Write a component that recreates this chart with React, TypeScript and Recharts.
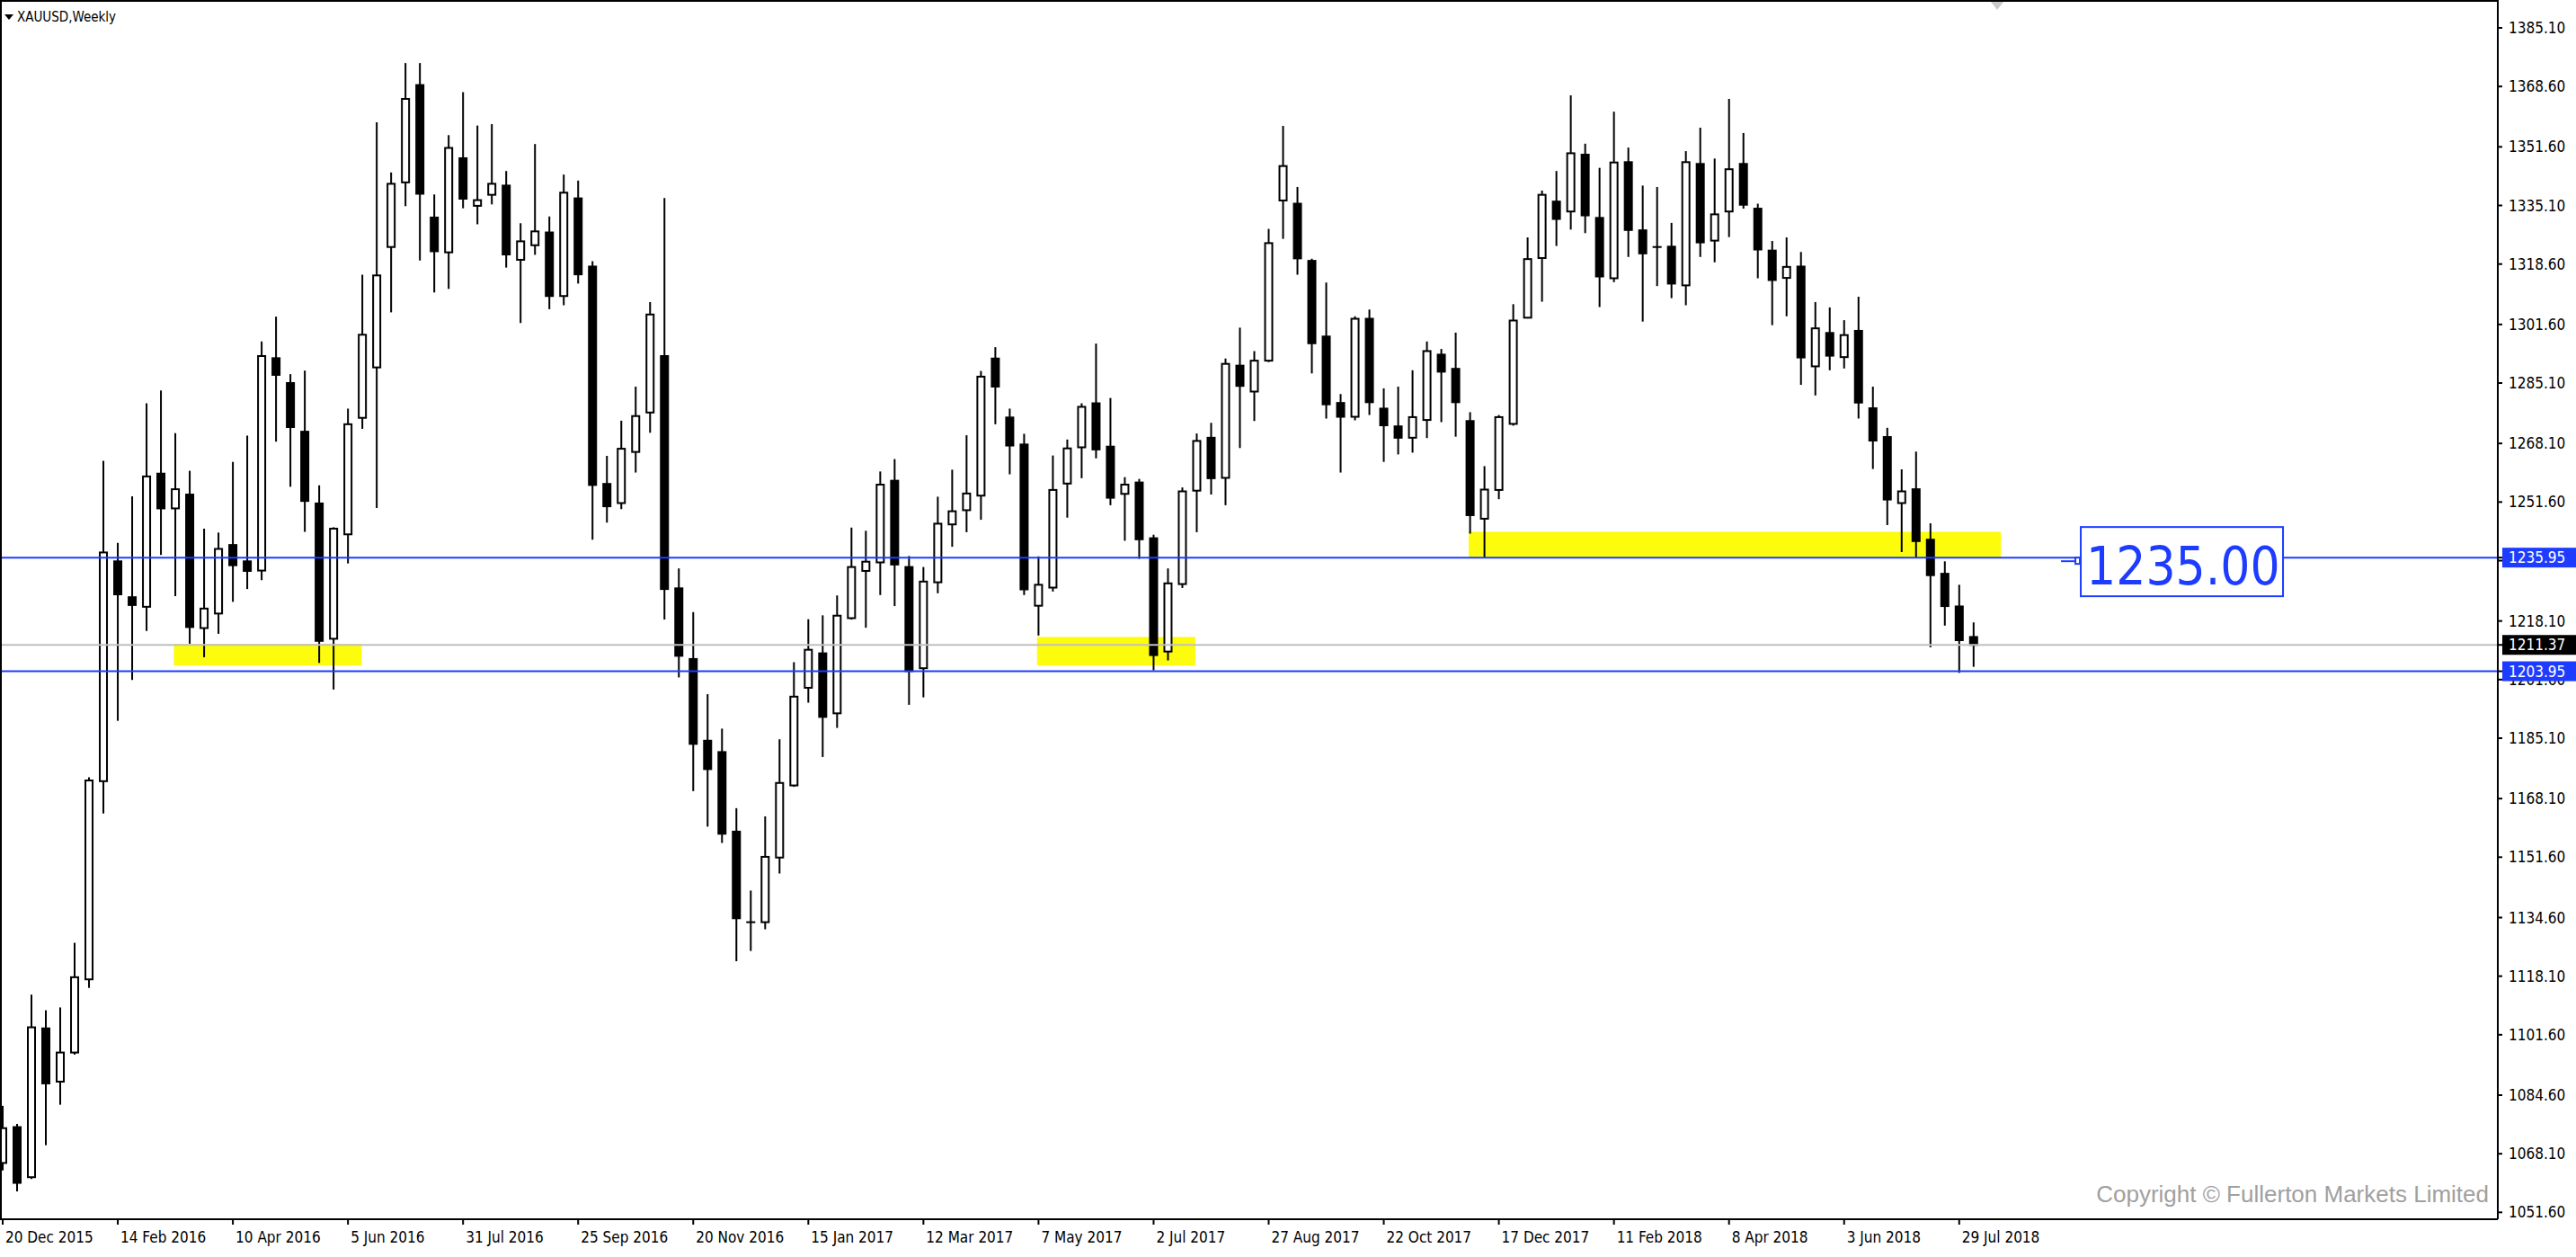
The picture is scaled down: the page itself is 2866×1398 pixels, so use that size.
import { ComposedChart, Bar, XAxis, YAxis, ReferenceLine, ReferenceArea, ReferenceDot } from "recharts"

const CHART_W = 2866
const CHART_H = 1398
const BLUE = "#1e3cff"
const FONT = "'DejaVu Sans Condensed', 'DejaVu Sans', sans-serif"

// weekly XAUUSD bars, week 0 = 20 Dec 2015
const OPEN = [
  1065.5, 1075.6, 1061.5, 1103.4, 1088.4, 1096.6, 1117.2, 1173.0, 1234.9, 1224.8,
  1222.1, 1259.6, 1249.8, 1253.7, 1216.1, 1220.2, 1239.5, 1234.9, 1232.3, 1292.1,
  1285.1, 1271.4, 1251.2, 1213.1, 1242.5, 1275.3, 1289.5, 1323.4, 1341.6, 1369.0,
  1331.7, 1321.9, 1348.4, 1335.0, 1338.1, 1340.7, 1319.8, 1323.9, 1327.5, 1309.6,
  1337.1, 1317.9, 1256.7, 1251.3, 1265.7, 1276.8, 1292.7, 1227.3, 1207.4, 1184.4,
  1181.2, 1158.8, 1133.3, 1133.3, 1151.5, 1171.8, 1199.3, 1209.0, 1192.1, 1218.9,
  1232.2, 1234.6, 1257.6, 1233.3, 1204.8, 1229.0, 1245.3, 1249.3, 1253.4, 1292.0,
  1275.4, 1267.8, 1222.4, 1227.5, 1256.8, 1267.0, 1279.4, 1267.2, 1253.9, 1257.1,
  1241.4, 1209.5, 1228.5, 1254.8, 1269.7, 1258.4, 1290.0, 1282.7, 1291.4, 1336.5,
  1335.6, 1319.5, 1298.2, 1279.5, 1275.6, 1303.2, 1277.9, 1272.9, 1269.7, 1274.7,
  1293.1, 1289.1, 1274.4, 1246.9, 1255.0, 1273.6, 1303.5, 1320.3, 1336.2, 1333.4,
  1349.4, 1331.6, 1314.6, 1347.3, 1328.1, 1323.4, 1323.5, 1312.6, 1346.8, 1325.2,
  1333.4, 1346.8, 1334.2, 1322.4, 1314.7, 1317.9, 1289.8, 1299.2, 1292.4, 1299.8,
  1278.0, 1269.9, 1251.3, 1255.2, 1241.0, 1231.4, 1222.2, 1213.6,
]
const HIGH = [
  1081.6, 1076.5, 1112.9, 1108.5, 1109.3, 1127.5, 1174.1, 1263.2, 1240.1, 1253.2,
  1279.4, 1283.0, 1271.0, 1260.4, 1244.1, 1243.0, 1262.9, 1270.3, 1296.8, 1303.8,
  1287.6, 1288.6, 1256.3, 1244.5, 1277.9, 1315.6, 1358.5, 1344.4, 1375.2, 1375.2,
  1338.2, 1354.9, 1367.0, 1357.6, 1358.0, 1344.8, 1330.1, 1352.4, 1332.0, 1343.8,
  1342.1, 1319.4, 1264.6, 1274.5, 1284.1, 1307.9, 1337.2, 1232.9, 1220.6, 1197.5,
  1187.8, 1165.4, 1142.2, 1163.1, 1184.8, 1206.5, 1218.6, 1219.7, 1225.3, 1244.4,
  1243.5, 1260.2, 1263.7, 1236.4, 1233.3, 1253.1, 1260.7, 1270.4, 1288.5, 1295.2,
  1277.9, 1270.8, 1236.3, 1264.7, 1269.2, 1279.4, 1296.2, 1280.9, 1258.6, 1258.1,
  1242.4, 1232.9, 1255.7, 1270.9, 1273.9, 1292.0, 1300.7, 1294.1, 1328.5, 1357.5,
  1340.3, 1320.1, 1313.4, 1282.0, 1303.9, 1305.8, 1283.6, 1284.1, 1288.7, 1296.8,
  1294.7, 1299.3, 1276.9, 1261.7, 1276.1, 1307.3, 1326.1, 1339.3, 1344.8, 1366.1,
  1352.5, 1345.7, 1361.5, 1351.4, 1340.7, 1340.3, 1330.2, 1350.4, 1357.0, 1348.3,
  1365.1, 1355.5, 1335.6, 1325.1, 1326.1, 1322.0, 1307.9, 1306.4, 1302.8, 1309.4,
  1284.1, 1272.5, 1260.8, 1265.8, 1245.6, 1234.9, 1228.3, 1217.7,
]
const LOW = [
  1063.4, 1057.5, 1061.0, 1070.5, 1081.9, 1096.0, 1114.8, 1163.9, 1190.0, 1201.5,
  1215.3, 1236.7, 1225.1, 1211.7, 1207.9, 1214.5, 1223.5, 1227.1, 1229.6, 1268.6,
  1255.9, 1243.2, 1206.3, 1198.8, 1234.3, 1272.2, 1249.9, 1305.0, 1334.9, 1319.6,
  1310.6, 1311.6, 1334.3, 1329.8, 1335.4, 1317.6, 1302.0, 1321.2, 1305.9, 1307.0,
  1313.1, 1241.0, 1245.8, 1249.6, 1259.9, 1271.1, 1218.5, 1202.2, 1170.2, 1160.2,
  1155.6, 1122.3, 1125.2, 1131.3, 1147.0, 1171.4, 1195.1, 1179.8, 1188.0, 1218.5,
  1216.2, 1225.4, 1222.3, 1194.5, 1196.6, 1225.9, 1239.0, 1243.1, 1246.6, 1273.5,
  1259.4, 1225.4, 1214.0, 1226.4, 1247.2, 1258.3, 1263.9, 1250.7, 1240.7, 1235.6,
  1204.2, 1207.0, 1227.4, 1243.1, 1253.7, 1250.7, 1266.8, 1274.4, 1291.0, 1325.7,
  1315.6, 1287.8, 1275.1, 1259.9, 1274.6, 1276.1, 1262.9, 1265.0, 1265.5, 1269.6,
  1274.1, 1270.0, 1242.7, 1235.9, 1252.4, 1273.1, 1303.3, 1308.0, 1323.7, 1328.3,
  1327.3, 1306.5, 1313.5, 1320.6, 1302.4, 1312.4, 1309.0, 1307.0, 1320.6, 1319.1,
  1326.2, 1334.2, 1314.6, 1301.4, 1303.9, 1284.6, 1281.6, 1288.7, 1289.2, 1275.1,
  1260.9, 1245.1, 1237.5, 1235.9, 1210.7, 1216.8, 1203.5, 1205.2,
]
const CLOSE = [
  1075.3, 1059.9, 1103.7, 1087.9, 1096.6, 1117.8, 1173.2, 1237.4, 1225.6, 1222.6,
  1258.8, 1249.8, 1255.2, 1216.4, 1221.6, 1238.4, 1233.8, 1232.2, 1292.7, 1287.4,
  1272.7, 1251.9, 1212.5, 1244.1, 1273.5, 1298.7, 1315.4, 1341.2, 1365.1, 1338.4,
  1322.2, 1351.3, 1337.0, 1336.6, 1341.2, 1321.3, 1325.0, 1327.8, 1309.6, 1338.7,
  1315.7, 1256.4, 1250.4, 1266.6, 1275.8, 1304.4, 1227.1, 1208.3, 1183.5, 1176.4,
  1158.2, 1134.4, 1133.3, 1151.7, 1172.5, 1196.8, 1210.0, 1191.1, 1219.6, 1233.3,
  1234.8, 1256.5, 1234.0, 1204.0, 1229.2, 1245.5, 1249.0, 1254.0, 1286.9, 1284.1,
  1267.5, 1227.0, 1228.3, 1255.0, 1266.7, 1278.4, 1266.4, 1252.8, 1256.5, 1241.1,
  1208.5, 1228.7, 1254.6, 1268.8, 1258.3, 1290.5, 1284.3, 1291.4, 1324.5, 1346.2,
  1320.2, 1296.3, 1279.1, 1275.6, 1303.2, 1279.7, 1273.2, 1269.7, 1275.5, 1294.1,
  1288.3, 1279.7, 1247.9, 1255.1, 1275.5, 1302.7, 1320.0, 1338.1, 1331.3, 1349.8,
  1332.3, 1315.1, 1347.2, 1328.2, 1321.6, 1323.4, 1313.1, 1347.3, 1324.7, 1332.6,
  1345.3, 1335.3, 1322.7, 1314.1, 1317.8, 1292.3, 1300.5, 1292.8, 1298.6, 1279.6,
  1268.9, 1252.3, 1254.6, 1240.6, 1231.0, 1222.3, 1212.7, 1211.37,
]

// one label every 8 weeks
const DATE_LABELS = [
  "20 Dec 2015", "14 Feb 2016", "10 Apr 2016", "5 Jun 2016", "31 Jul 2016", "25 Sep 2016",
  "20 Nov 2016", "15 Jan 2017", "12 Mar 2017", "7 May 2017", "2 Jul 2017", "27 Aug 2017",
  "22 Oct 2017", "17 Dec 2017", "11 Feb 2018", "8 Apr 2018", "3 Jun 2018", "29 Jul 2018",
]
const LABEL_STEP = 8

const PRICE_TICKS = [
  1385.1, 1368.6, 1351.6, 1335.1, 1318.6, 1301.6, 1285.1, 1268.1, 1251.6, 1235.1, 1218.1,
  1201.6, 1185.1, 1168.1, 1151.6, 1134.6, 1118.1, 1101.6, 1084.6, 1068.1, 1051.6,
]

const LEVELS = [
  { price: 1235.95, line: BLUE, tag: BLUE },
  { price: 1211.37, line: "#c0c0c0", tag: "#000" },
  { price: 1203.95, line: BLUE, tag: BLUE },
]

const ZONES = [
  { from: 11.9, to: 24.95, low: 1205.6, high: 1211.6 },
  { from: 71.9, to: 82.9, low: 1205.6, high: 1213.6 },
  { from: 101.9, to: 138.9, low: 1235.95, high: 1243.2 },
]

const NOTE = { week: 144.45, price: 1235.95, text: "1235.00" }

const data = OPEN.map((o, i) => ({
  week: i,
  open: o,
  high: HIGH[i],
  low: LOW[i],
  close: CLOSE[i],
  range: [LOW[i], HIGH[i]],
}))

function Candle(props: any) {
  const { x, y, width, height } = props
  const d = props.payload ?? props
  if (x == null || y == null) return null
  const top = Math.min(y, y + height)
  const h = Math.abs(height)
  const cx = x + width / 2
  const span = d.high - d.low
  const toY = (v: number) => (span > 0 ? top + ((d.high - v) / span) * h : top)
  const bull = d.close >= d.open
  const bTop = toY(Math.max(d.open, d.close))
  const bBot = toY(Math.min(d.open, d.close))
  return (
    <g>
      <line x1={cx} x2={cx} y1={top} y2={top + h} stroke="#000" strokeWidth={2} />
      {bBot - bTop < 1 ? (
        <line x1={cx - 5} x2={cx + 5} y1={bTop} y2={bTop} stroke="#000" strokeWidth={2} />
      ) : (
        <rect
          x={cx - 4}
          y={bTop}
          width={8}
          height={bBot - bTop}
          fill={bull ? "#fff" : "#000"}
          stroke="#000"
          strokeWidth={2}
        />
      )}
    </g>
  )
}

function DateTick(props: any) {
  const { x, y, payload } = props
  const label = DATE_LABELS[Math.round(payload.value / LABEL_STEP)]
  return (
    <g>
      <line x1={x} x2={x} y1={y} y2={y + 6} stroke="#000" strokeWidth={2} />
      <text x={x + 3} y={y + 20} dy="0.35em" fontFamily={FONT} fontSize={17} fill="#000">
        {label}
      </text>
    </g>
  )
}

function PriceTick(props: any) {
  const { x, y, payload } = props
  const v = payload.value as number
  const level = LEVELS.find((l) => l.price === v)
  return (
    <g>
      <line x1={x} x2={x + 5} y1={y} y2={y} stroke="#000" strokeWidth={2} />
      {level && <rect x={x + 5} y={y - 11} width={90} height={22} fill={level.tag} />}
      <text
        x={x + 12}
        y={y}
        dy="0.36em"
        fontFamily={FONT}
        fontSize={17}
        fill={level ? "#fff" : "#000"}
      >
        {v.toFixed(2)}
      </text>
    </g>
  )
}

function NoteBox(props: any) {
  const { cx, cy } = props
  if (cx == null || cy == null) return null
  return (
    <g>
      <line x1={cx - 22} x2={cx - 6} y1={cy + 4} y2={cy + 4} stroke={BLUE} strokeWidth={2} />
      <rect x={cx - 6} y={cy} width={5} height={7} fill="#fff" stroke={BLUE} strokeWidth={2} />
      <rect x={cx} y={cy - 34} width={225} height={77} fill="#fff" stroke={BLUE} strokeWidth={2} />
      <text x={cx + 6} y={cy + 30} fontFamily={FONT} fontSize={58} fill={BLUE}>
        {NOTE.text}
      </text>
    </g>
  )
}

export default function App() {
  return (
    <div style={{ position: "relative", width: CHART_W, height: CHART_H, background: "#fff" }}>
      <style>{"body{margin:0;background:#fff}"}</style>
      <ComposedChart
        width={CHART_W}
        height={CHART_H}
        data={data}
        margin={{ top: 0, right: 0, bottom: 0, left: 0 }}
      >
        <XAxis
          dataKey="week"
          type="number"
          domain={[-0.1875, 173.4375]}
          allowDataOverflow
          ticks={DATE_LABELS.map((_, k) => k * LABEL_STEP)}
          interval={0}
          height={42}
          tickSize={0}
          tickMargin={0}
          tickLine={false}
          axisLine={{ stroke: "#000", strokeWidth: 2 }}
          tick={(p: any) => <DateTick {...p} />}
        />
        <YAxis
          orientation="right"
          type="number"
          domain={[1049.66, 1392.95]}
          allowDataOverflow
          ticks={[...PRICE_TICKS, ...LEVELS.map((l) => l.price)]}
          interval={0}
          width={87}
          tickSize={0}
          tickMargin={0}
          tickLine={false}
          axisLine={{ stroke: "#000", strokeWidth: 2 }}
          tick={(p: any) => <PriceTick {...p} />}
        />
        {ZONES.map((z) => (
          <ReferenceArea
            key={z.from}
            x1={z.from}
            x2={z.to}
            y1={z.low}
            y2={z.high}
            fill="#fcfc0c"
            fillOpacity={1}
            stroke="none"
            ifOverflow="visible"
          />
        ))}
        {LEVELS.map((l) => (
          <ReferenceLine key={l.price} y={l.price} stroke={l.line} strokeWidth={2} />
        ))}
        <Bar
          dataKey="range"
          barSize={10}
          isAnimationActive={false}
          shape={(p: any) => <Candle {...p} />}
        />
        <ReferenceDot
          x={NOTE.week}
          y={NOTE.price}
          ifOverflow="visible"
          shape={(p: any) => <NoteBox {...p} />}
        />
      </ComposedChart>

      {/* chart frame: top and left edges */}
      <div
        style={{
          position: "absolute",
          left: 0,
          top: 0,
          width: 2779,
          height: 1356,
          borderLeft: "2px solid #000",
          borderTop: "2px solid #000",
          boxSizing: "border-box",
          pointerEvents: "none",
        }}
      />
      {/* chart shift marker */}
      <div
        style={{
          position: "absolute",
          left: 2215,
          top: 2,
          width: 0,
          height: 0,
          borderLeft: "7px solid transparent",
          borderRight: "7px solid transparent",
          borderTop: "9px solid #c8c8c8",
        }}
      />
      <div
        style={{
          position: "absolute",
          left: 5,
          top: 10,
          fontFamily: FONT,
          fontSize: 15,
          color: "#000",
          display: "flex",
          alignItems: "center",
          gap: 4,
        }}
      >
        <span
          style={{
            width: 0,
            height: 0,
            borderLeft: "5px solid transparent",
            borderRight: "5px solid transparent",
            borderTop: "6px solid #000",
          }}
        />
        <span>XAUUSD,Weekly</span>
      </div>
      <div
        style={{
          position: "absolute",
          right: CHART_W - 2769,
          top: 1313,
          fontFamily: "'Liberation Sans', Arial, sans-serif",
          fontSize: 26,
          color: "#a0a0a0",
          whiteSpace: "nowrap",
        }}
      >
        Copyright © Fullerton Markets Limited
      </div>
    </div>
  )
}
